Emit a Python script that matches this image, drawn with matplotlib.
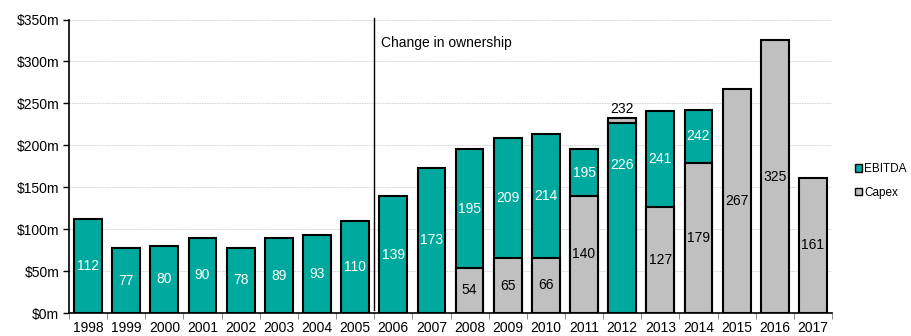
import matplotlib.pyplot as plt
import numpy as np

years = [str(y) for y in range(1998, 2018)]
ebitda = [112, 77, 80, 90, 78, 89, 93, 110, 139, 173, 195, 209, 214, 195, 226, 241, 242, None, None, None]
capex = [None, None, None, None, None, None, None, None, None, None, 54, 65, 66, 140, 232, 127, 179, 267, 325, 161]

teal = '#00A99D'
grey = '#C0C0C0'

plt.rcParams['font.family'] = ['Liberation Sans', 'DejaVu Sans']

fig = plt.figure(figsize=(9.12, 3.36), dpi=100)
ax = fig.add_axes([69 / 912, 23 / 336, 763 / 912, 293.5 / 336])

x = np.arange(len(years))
w = 0.73
for i in range(len(years)):
    e, c = ebitda[i], capex[i]
    bars = [(v, col) for v, col in ((e, teal), (c, grey)) if v is not None]
    # larger bar behind, smaller one in front
    bars.sort(key=lambda b: -b[0])
    for z, (v, col) in enumerate(bars):
        ax.bar(x[i], v, w, color=col, edgecolor='black', linewidth=1.5, zorder=2 + z)

    # labels
    if e is not None:
        if c is None:
            ey = e / 2
        elif c < e:
            ey = (c + e) / 2
        else:
            ey = e * 0.78
        ax.text(x[i], ey, str(e), ha='center', va='center', color='white', fontsize=10, zorder=10)
    if c is not None:
        if e is not None and c > e:
            ax.text(x[i], c + 3, str(c), ha='center', va='bottom', color='black', fontsize=10, zorder=10)
        else:
            ax.text(x[i], c / 2, str(c), ha='center', va='center', color='black', fontsize=10, zorder=10)

ax.set_xlim(-0.5, len(years) - 0.5)
ax.set_ylim(0, 350)
ax.set_yticks(np.arange(0, 351, 50))
ax.set_yticklabels([f'${v}m' for v in range(0, 351, 50)], fontsize=10)
ax.set_xticks(x)
ax.set_xticklabels(years, fontsize=10)
ax.tick_params(axis='x', length=0, pad=6)
ax.set_xticks(np.arange(-0.5, len(years)), minor=True)
ax.tick_params(axis='x', which='minor', length=4, color='#777777')
ax.tick_params(axis='y', length=4, width=1, pad=3)
ax.yaxis.grid(True, color='#D0D0D0', linestyle=(0, (2, 1)), linewidth=0.6, zorder=0)
ax.set_axisbelow(True)
for s in ['top', 'right']:
    ax.spines[s].set_visible(False)
ax.spines['left'].set_linewidth(1.2)
ax.spines['bottom'].set_linewidth(1.2)

# change in ownership marker
ax.plot([7.5, 7.5], [3, 352], color='black', linewidth=1, clip_on=False, zorder=5)
ax.text(7.68, 322, 'Change in ownership', fontsize=10, va='center', ha='left')

# legend
ax.bar(0, 0, color=teal, edgecolor='black', label='EBITDA')
ax.bar(0, 0, color=grey, edgecolor='black', label='Capex')
ax.legend(loc='center left', bbox_to_anchor=(1.024, 0.45), frameon=False, fontsize=8.5,
          handlelength=0.6, handleheight=0.6, handletextpad=0.2, labelspacing=1.0,
          borderaxespad=0)

fig.savefig('out.png', dpi=100)
